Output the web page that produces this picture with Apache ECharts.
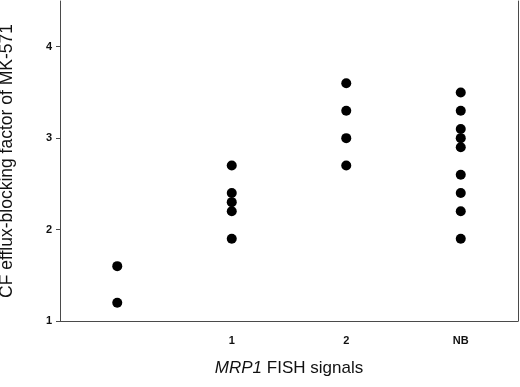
<!DOCTYPE html>
<html>
<head>
<meta charset="utf-8">
<script src="https://cdn.jsdelivr.net/npm/echarts@6/dist/echarts.min.js"></script>
<style>
  html, body { margin: 0; padding: 0; background: #fff; }
  #chart { width: 520px; height: 387px; }
</style>
</head>
<body>
<div id="chart"></div>
<script>
// FISH signal groups on the x axis (first group has no label)
const categories = ['', '1', '2', 'NB'];
const yTicks = [1, 2, 3, 4];

// CF efflux-blocking factor of MK-571, per group
const group0 = [1.6, 1.2];
const group1 = [2.7, 2.4, 2.3, 2.2, 1.9];
const group2 = [3.6, 3.3, 3.0, 2.7];
const groupNB = [3.5, 3.3, 3.1, 3.0, 2.9, 2.6, 2.4, 2.2, 1.9];

const groups = [group0, group1, group2, groupNB];
const points = [];
groups.forEach((vals, i) => {
  vals.forEach(v => points.push([i, v]));
});

const font = 'Liberation Sans, Arial, sans-serif';
const lineColor = '#4a4a4a';

const chart = echarts.init(document.getElementById('chart'));
chart.setOption({
  animation: false,
  grid: { left: 60, right: 2, top: 1, bottom: 66, outerBoundsMode: 'none', containLabel: false },
  xAxis: {
    type: 'category',
    data: categories,
    boundaryGap: true,
    axisLine: { lineStyle: { color: lineColor, width: 1 } },
    axisTick: { show: false },
    axisLabel: {
      margin: 14,
      color: '#111',
      fontSize: 11,
      fontWeight: 'bold',
      fontFamily: font
    },
    name: '{i|MRP1} FISH signals',
    nameLocation: 'middle',
    nameGap: 39,
    nameTextStyle: {
      color: '#111',
      fontSize: 17,
      fontFamily: font,
      rich: {
        i: { fontStyle: 'italic', fontSize: 17, fontFamily: font, color: '#111' }
      }
    }
  },
  yAxis: [{
    type: 'value',
    min: 1,
    max: 4.5,
    interval: 1,
    splitLine: { show: false },
    axisLine: { show: true, lineStyle: { color: lineColor, width: 1 } },
    axisTick: { show: true, length: 4, inside: false, customValues: yTicks, lineStyle: { color: lineColor } },
    axisLabel: {
      customValues: yTicks,
      margin: 8,
      color: '#111',
      fontSize: 11,
      fontWeight: 'bold',
      fontFamily: font
    },
    name: 'CF efflux-blocking factor of MK-571',
    nameLocation: 'middle',
    nameGap: 44,
    nameTextStyle: { color: '#111', fontSize: 17.5, fontFamily: font }
  }, {
    type: 'value',
    position: 'right',
    min: 1,
    max: 4.5,
    splitLine: { show: false },
    axisLine: { show: true, lineStyle: { color: lineColor, width: 1 } },
    axisTick: { show: false },
    axisLabel: { show: false }
  }],
  series: [{
    type: 'scatter',
    data: points,
    symbol: 'circle',
    symbolSize: 10,
    itemStyle: { color: '#000', opacity: 1 }
  }]
});
</script>
</body>
</html>
